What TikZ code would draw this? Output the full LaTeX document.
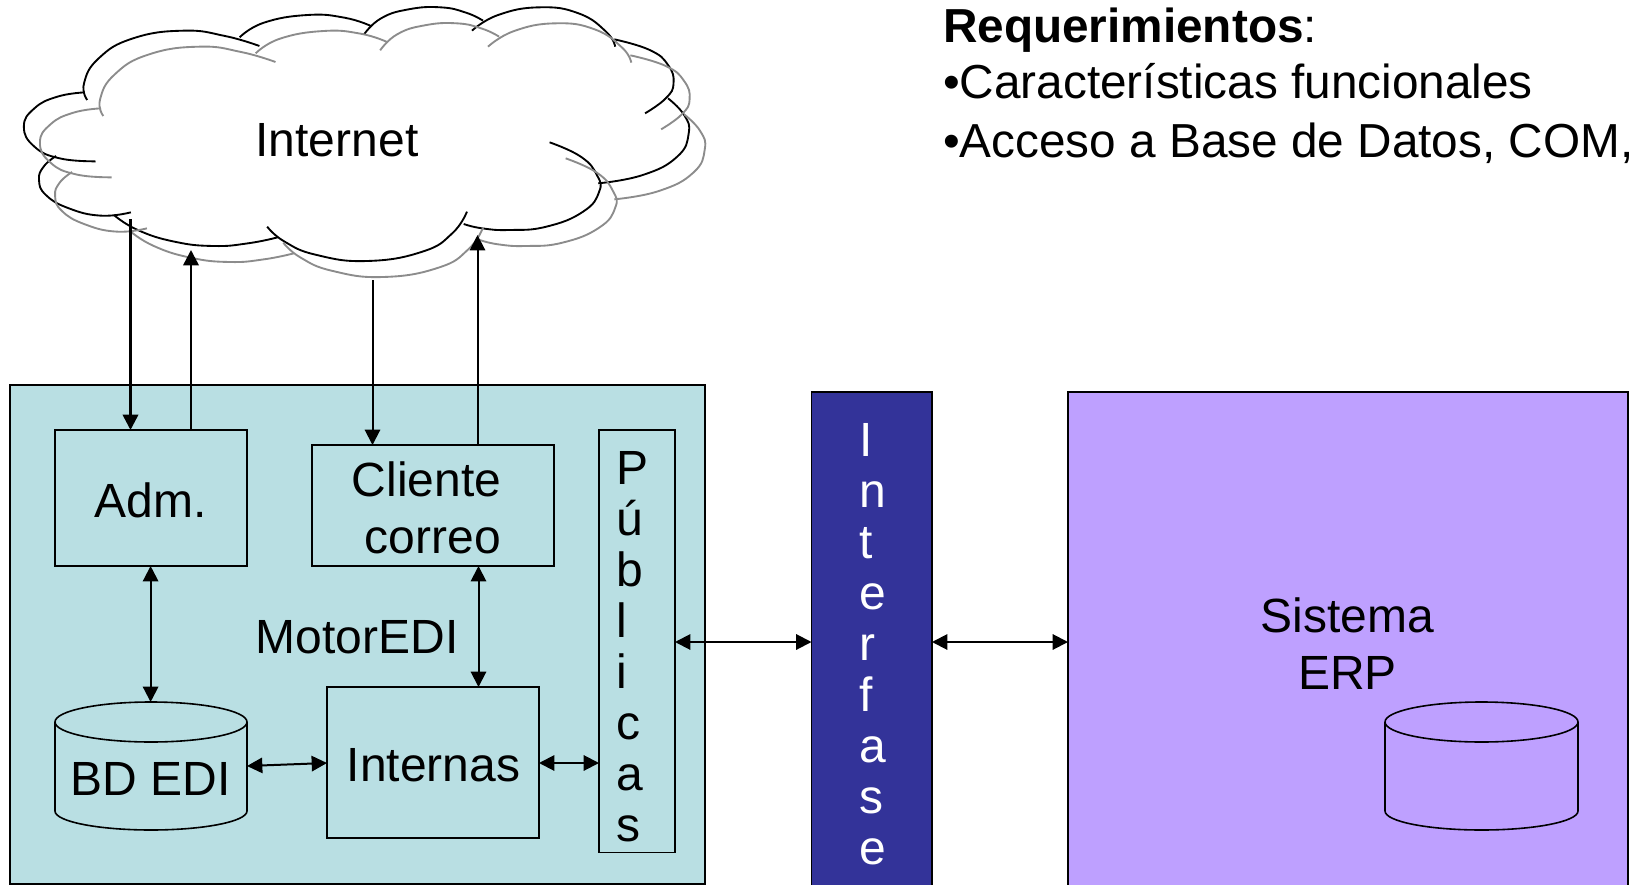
\documentclass[tikz,border=0pt]{standalone}
\usepackage{fontspec}
\setmainfont{Liberation Sans}
\usetikzlibrary{arrows.meta}
\definecolor{motorfill}{RGB}{185,223,227}
\definecolor{ifcfill}{RGB}{51,51,153}
\definecolor{erpfill}{RGB}{190,160,255}
\definecolor{cloudgray}{RGB}{140,140,140}
\tikzset{
  boxst/.style={draw=black,line width=1.2pt,inner sep=0pt,outer sep=0pt,rectangle},
  txt/.style={inner sep=0pt,outer sep=0pt,anchor=base,font=\fontsize{36pt}{36pt}\selectfont},
  txtl/.style={txt,anchor=base west},
  reqtxt/.style={txtl,font=\fontsize{35.8pt}{36pt}\selectfont},
  link/.style={line width=1.5pt,{Triangle[length=11.5pt,width=11.5pt]}-{Triangle[length=11.5pt,width=11.5pt]}},
  onearrow/.style={line width=#1,-{Triangle[length=11.5pt,width=11.5pt]}},
  cyl/.style={line width=1.2pt,draw=black},
  arc/.style={line width=1.4pt}
}
\newcommand\bx[6][]{\node[boxst,#1,minimum width={(#5-#3)*0.75pt},minimum height={(#6-#4)*0.75pt}] (#2) at ({(#3+#5)/2},{(#4+#6)/2}) {};}
\newcommand\cyldraw[2]{%
  \draw[cyl] (#1,722) arc[start angle=180,end angle=540,x radius={(#2-#1)/2},y radius=20];
  \draw[cyl] (#1,722) -- (#1,811) arc[start angle=180,end angle=0,x radius={(#2-#1)/2},y radius=19] -- (#2,722);}
\newcommand\cloudarcs[1]{%
\begin{scope}[x=0.34435pt,y=-0.25pt,shift={#1}]
\draw[arc,cloudcol] plot[smooth,tension=0.8] coordinates {(190,300)(183,250)(215,175)(290,115)(400,92)(490,108)(565,138)};
\draw[arc,cloudcol] plot[smooth,tension=0.8] coordinates {(522,112)(575,68)(670,45)(750,53)(808,78)};
\draw[arc,cloudcol] plot[smooth,tension=0.8] coordinates {(793,103)(830,55)(890,28)(960,22)(1015,38)(1052,62)};
\draw[arc,cloudcol] plot[smooth,tension=0.8] coordinates {(1028,92)(1085,45)(1175,22)(1260,40)(1320,95)(1340,140)};
\draw[arc,cloudcol] plot[smooth,tension=0.8] coordinates {(1338,118)(1415,150)(1455,195)(1467,250)(1450,295)(1405,340)};
\draw[arc,cloudcol] plot[smooth,tension=0.8] coordinates {(1455,295)(1490,345)(1500,400)(1475,470)(1400,525)(1303,550)};
\draw[arc,cloudcol] plot[smooth,tension=0.8] coordinates {(1197,427)(1265,470)(1300,525)(1305,575)(1270,635)(1190,680)(1110,690)(1050,685)(1010,672)};
\draw[arc,cloudcol] plot[smooth,tension=0.8] coordinates {(1017,635)(985,700)(920,755)(800,783)(690,765)(620,725)(582,680)};
\draw[arc,cloudcol] plot[smooth,tension=0.8] coordinates {(605,712)(540,730)(465,738)(380,725)(300,690)(248,645)};
\draw[arc,cloudcol] plot[smooth,tension=0.8] coordinates {(285,637)(220,647)(150,625)(100,585)(85,540)(95,500)(122,468)};
\draw[arc,cloudcol] plot[smooth,tension=0.8] coordinates {(208,484)(130,475)(75,440)(52,380)(75,325)(125,290)(185,277)};
\end{scope}}
\begin{document}
\begin{tikzpicture}[x=0.75pt,y=-0.75pt]
\useasboundingbox (0,0) rectangle (1634,884.2);
\fill[white] (0,0) rectangle (1634,886);
% cloud
\colorlet{cloudcol}{black}
\cloudarcs{(0,0)}
\colorlet{cloudcol}{cloudgray}
\cloudarcs{(35,48)}
\node[txt] (internet) at (337,156.5) {Internet};
% panels
\bx[fill=motorfill]{motor}{10}{385}{705}{884}
\bx[fill=ifcfill]{ifc}{811.5}{392}{932}{905}
\bx[fill=erpfill]{erp}{1068}{392}{1628}{905}
% inner boxes
\bx{adm}{55}{430}{247}{566}
\bx{cli}{312}{445}{554}{566}
\bx{pub}{599}{430}{675}{852.5}
\bx{int}{327}{687}{539}{838}
% cylinders
\cyldraw{55}{247}
\cyldraw{1385}{1578}
\node[inner sep=0pt,outer sep=0pt,minimum width=144pt,minimum height=96pt] (bd) at (151,766) {};
% texts
\node[txt] (tadm) at (150.5,517) {Adm.};
\node[txt] (tcli) at (426.5,496) {Cliente};
\node[txt] (tcor) at (433,553) {correo};
\node[txt] (tmot) at (357,653) {MotorEDI};
\node[txt] (tbd) at (150.6,795) {BD EDI};
\node[txt] (tint) at (433.5,781) {Internas};
\node[txt] (tsis) at (1347.5,632) {Sistema};
\node[txt] (terp) at (1347.5,689) {ERP};
\foreach \ch [count=\i] in {P,ú,b,l,i,c,a,s}
  \node[txtl] (pub\i) at (616.5,{484+(\i-1)*51.1}) {\ch};
\foreach \ch [count=\i] in {I,n,t,e,r,f,a,s,e}
  \node[txtl,text=white] (ifc\i) at (859,{456+(\i-1)*51}) {\ch};
\node[reqtxt] (req1) at (943,43) {\textbf{Requerimientos}:};
\node[reqtxt] (req2) at (943,99) {•Características funcionales};
\node[reqtxt] (req3) at (943,157) {•Acceso a Base de Datos, COM,};
% free ends
\coordinate (c1) at (130.5,219);
\coordinate (c2) at (191,250);
\coordinate (c3) at (372.5,280);
\coordinate (c4) at (477.5,235);
\coordinate (yq) at (0,642);
\coordinate (xa) at (150.6,0);
\coordinate (xb) at (478.5,0);
\coordinate (yb1) at (0,766);
\coordinate (yb2) at (0,763);
% connectors
\draw[onearrow=1.9pt] (c1) -- (c1 |- adm.north);
\draw[onearrow=1.9pt] (c2 |- adm.north) -- (c2);
\draw[onearrow=1.5pt] (c3) -- (c3 |- cli.north);
\draw[onearrow=1.5pt] (c4 |- cli.north) -- (c4);
\draw[link] (xa |- adm.south) -- (xa |- bd.north);
\draw[link] (xb |- cli.south) -- (xb |- int.north);
\draw[link] (bd.east |- yb1) -- (int.west |- yb2);
\draw[link] (int.east |- yb2) -- (pub.west |- yb2);
\draw[link] (pub.east |- yq) -- (ifc.west |- yq);
\draw[link] (ifc.east |- yq) -- (erp.west |- yq);
\end{tikzpicture}
\end{document}
